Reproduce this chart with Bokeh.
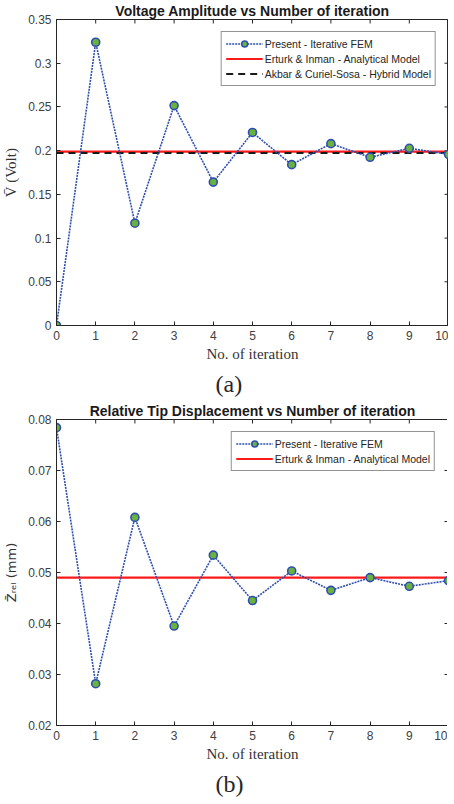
import math
from bokeh.plotting import figure
from bokeh.models import FixedTicker, Legend, LegendItem, Title, Range1d
from bokeh.layouts import column
from bokeh.embed import file_html
from bokeh.resources import INLINE

# ---------------- data ----------------
iterations = [0, 1, 2, 3, 4, 5, 6, 7, 8, 9, 10]
voltage_fem = [0.0, 0.324, 0.117, 0.2515, 0.164, 0.2208, 0.184, 0.208, 0.1924, 0.2027, 0.1958]
voltage_analytical = 0.1989
voltage_hybrid = 0.1973
tip_fem = [0.0784, 0.0282, 0.0608, 0.0395, 0.0534, 0.0445, 0.0503, 0.0465, 0.0490, 0.0473, 0.0484]
tip_analytical = 0.0490

v_ticks = [0.0, 0.05, 0.1, 0.15, 0.2, 0.25, 0.3, 0.35]
v_tick_labels = ["0", "0.05", "0.1", "0.15", "0.2", "0.25", "0.3", "0.35"]
z_ticks = [0.02, 0.03, 0.04, 0.05, 0.06, 0.07, 0.08]
z_tick_labels = ["0.02", "0.03", "0.04", "0.05", "0.06", "0.07", "0.08"]
x_tick_labels = [str(i) for i in iterations]

AX = "#262626"
TICK_TXT = "#404040"
BLUE = "#2f4fb0"
GREEN = "#6ab23e"
SANS = "Liberation Sans"
SERIF = "Liberation Serif"


def style_axis(ax, ticks, labels):
    ax.ticker = FixedTicker(ticks=ticks)
    ax.major_tick_in = 4
    ax.major_tick_out = 0
    ax.minor_tick_line_color = None
    ax.axis_line_color = AX
    ax.major_tick_line_color = AX
    ax.major_label_text_font = SANS
    ax.major_label_text_font_size = "12px"
    ax.major_label_text_color = TICK_TXT
    ax.major_label_standoff = 5
    ax.major_label_overrides = {t: l for t, l in zip(ticks, labels)}
    ax.axis_label_text_font = SERIF
    ax.axis_label_text_font_size = "15px"
    ax.axis_label_text_font_style = "normal"
    ax.axis_label_text_color = "#333333"


def make_panel(title, caption, ylabel, ylabel_font, y_lo, y_hi, yticks, ylabels, fem, refs):
    p = figure(frame_width=392, frame_height=306, output_backend="svg",
               toolbar_location=None, x_range=Range1d(iterations[0], iterations[-1]),
               y_range=Range1d(y_lo, y_hi), min_border_left=50, min_border_right=0,
               min_border_top=15, min_border_bottom=72)
    p.title.text = title
    p.title.align = "center"
    p.title.text_font = SANS
    p.title.text_font_size = "14px"
    p.title.text_font_style = "bold"
    p.title.text_color = "#1a1a1a"
    p.title.standoff = 1
    p.xgrid.visible = False
    p.ygrid.visible = False
    p.outline_line_color = AX
    p.background_fill_color = "white"

    style_axis(p.xaxis[0], iterations, x_tick_labels)
    style_axis(p.yaxis[0], yticks, ylabels)
    p.xaxis[0].axis_label = "No. of iteration"
    p.xaxis[0].axis_label_standoff = 3
    p.yaxis[0].axis_label = ylabel
    p.yaxis[0].axis_label_text_font = ylabel_font
    p.yaxis[0].axis_label_standoff = 6

    # inward ticks on the top and right edges of the box
    p.scatter(iterations, [y_hi] * len(iterations), marker="dash", angle=math.pi / 2,
              size=8, line_color=AX, line_width=1)
    p.scatter([iterations[-1]] * len(yticks), yticks, marker="dash",
              size=8, line_color=AX, line_width=1)

    items = []
    ln = p.line(iterations, fem, line_color=BLUE, line_width=1.6, line_dash="2 1")
    sc = p.scatter(iterations, fem, size=8, fill_color=GREEN, line_color=BLUE, line_width=1.6)
    items.append(LegendItem(label="Present - Iterative FEM", renderers=[ln, sc]))
    x_ends = [iterations[0], iterations[-1]]
    for label, val, color, dash in refs:
        r = p.line(x_ends, [val, val], line_color=color, line_width=2.2, line_dash=dash)
        items.append(LegendItem(label=label, renderers=[r]))
    p.renderers.remove(ln)
    p.renderers.remove(sc)
    p.renderers.extend([ln, sc])

    leg = Legend(items=items, location="top_right", margin=12)
    leg.label_text_font = SANS
    leg.label_text_font_size = "10.5px"
    leg.label_text_color = "#262626"
    leg.glyph_width = 37
    leg.glyph_height = 15
    leg.label_height = 15
    leg.label_standoff = 2
    leg.spacing = 0
    leg.padding = 4
    leg.border_line_color = AX
    leg.border_line_width = 1
    leg.background_fill_alpha = 1
    p.add_layout(leg)

    cap = Title(text=caption, align="left", text_font=SERIF, text_font_size="24px",
                text_font_style="normal", text_color="#262626", offset=159, standoff=8)
    p.add_layout(cap, "below")
    return p


p1 = make_panel("Voltage Amplitude vs Number of iteration", "(a)", "V\u0304 (Volt)", SERIF,
                0, 0.35, v_ticks, v_tick_labels, voltage_fem,
                [("Erturk & Inman - Analytical Model", voltage_analytical, "#ff1a1a", "solid"),
                 ("Akbar & Curiel-Sosa - Hybrid Model", voltage_hybrid, "#1a1a1a", "7 5")])
p2 = make_panel("Relative Tip Displacement vs Number of iteration", "(b)",
                "Z\u0304\u1d63\u2091\u2097 (mm)", "DejaVu Sans",
                0.02, 0.08, z_ticks, z_tick_labels, tip_fem,
                [("Erturk & Inman - Analytical Model", tip_analytical, "#ff1a1a", "solid")])
p2.yaxis[0].axis_label_text_font_size = "13px"

layout = column(p1, p2, spacing=0)
open("out.html", "w").write(file_html(layout, INLINE))
